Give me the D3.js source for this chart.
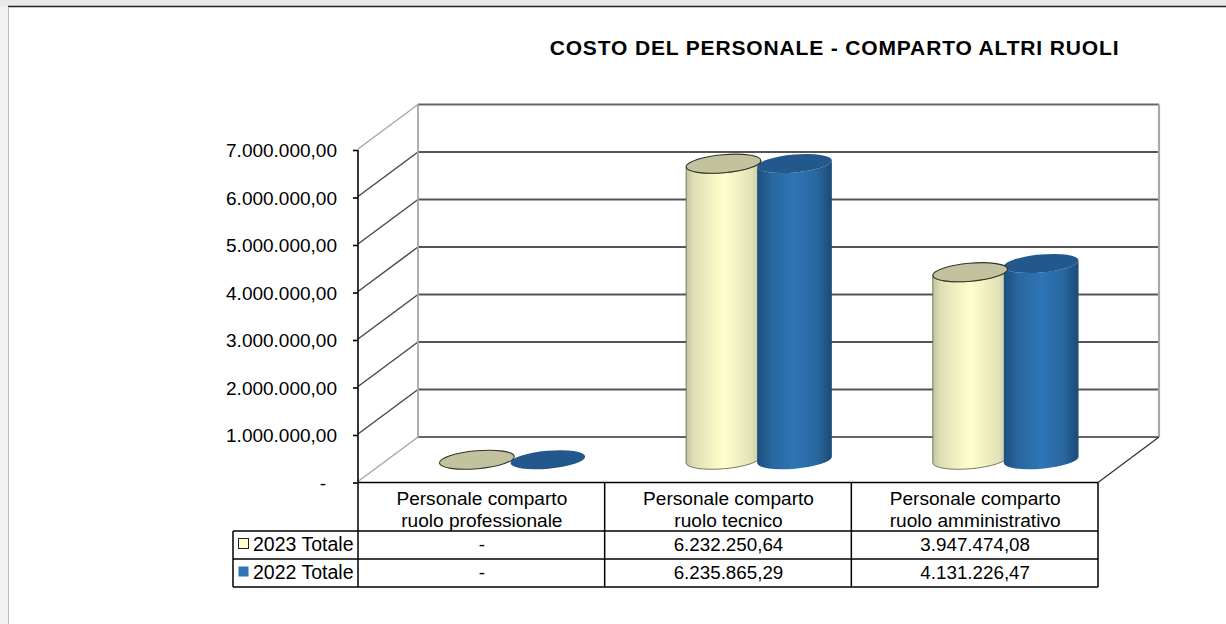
<!DOCTYPE html>
<html>
<head>
<meta charset="utf-8">
<script src="https://cdnjs.cloudflare.com/ajax/libs/d3/7.8.5/d3.min.js"></script>
<style>
  html, body { margin: 0; padding: 0; background: #fff; }
  svg { display: block; }
  text { font-family: "Liberation Sans", Arial, sans-serif; fill: #000; }
</style>
</head>
<body>
<div id="chart"></div>
<script>
var chartTitle = "COSTO DEL PERSONALE - COMPARTO ALTRI RUOLI";
var categories = ["Personale comparto ruolo professionale", "Personale comparto ruolo tecnico", "Personale comparto ruolo amministrativo"];
var categoryLines = [["Personale comparto", "ruolo professionale"], ["Personale comparto", "ruolo tecnico"], ["Personale comparto", "ruolo amministrativo"]];
var seriesNames = ["2023 Totale", "2022 Totale"];
var values2023 = [0, 6232250.64, 3947474.08];
var values2022 = [0, 6235865.29, 4131226.47];
var tickValues = [0, 1000000, 2000000, 3000000, 4000000, 5000000, 6000000, 7000000];

var width = 1226, height = 624;
var left = 358, right = 1098, bottom = 482.5, top_ = 150;
var depthX = 60, depthY = -45.5;
var tilt = 5 * Math.PI / 180;

var locale = d3.formatLocale({ decimal: ",", thousands: ".", grouping: [3], currency: ["", ""] });
var fmt = locale.format(",.2f");
function money(v) { return v === 0 ? "-" : fmt(v); }

var svg = d3.select("#chart").append("svg").attr("width", width).attr("height", height);
var defs = svg.append("defs");

function gradient(id, stops) {
  var g = defs.append("linearGradient").attr("id", id);
  stops.forEach(function (s) {
    g.append("stop").attr("offset", s[0]).attr("stop-color", s[1]);
  });
}
gradient("tanBody", [["0", "#c4c4a0"], ["0.1", "#dedeb6"], ["0.5", "#ffffcc"], ["0.88", "#e2e2b8"], ["1", "#c2c29e"]]);
gradient("blueBody", [["0", "#1d4f7e"], ["0.2", "#28679f"], ["0.5", "#2e75b6"], ["0.8", "#28679f"], ["1", "#1b4a75"]]);

// page frame of the screenshot
svg.append("rect").attr("width", width).attr("height", height).attr("fill", "#fff");
svg.append("rect").attr("width", width).attr("height", 6).attr("fill", "#e9e9e9");
svg.append("rect").attr("y", 6).attr("width", 8).attr("height", height - 6).attr("fill", "#f1f1f1");
svg.append("line").attr("x1", 8).attr("x2", width).attr("y1", 6.5).attr("y2", 6.5).attr("stroke", "#222").attr("stroke-width", 1.5);
svg.append("line").attr("x1", 8.5).attr("x2", 8.5).attr("y1", 7).attr("y2", height).attr("stroke", "#bbb");

svg.append("text").text(chartTitle)
  .attr("x", 834.5).attr("y", 54.5)
  .attr("text-anchor", "middle")
  .attr("font-weight", "bold")
  .style("letter-spacing", "0.85px")
  .style("font-size", "21px");

var x = d3.scaleBand().domain(categories).range([left, right]);
var y = d3.scaleLinear().domain([0, 7000000]).range([bottom, top_]);
var sub = d3.scaleBand().domain(seriesNames).range([-71, 71]);

// back wall + side wall grid
var grid = svg.append("g").attr("fill", "none");
tickValues.forEach(function (t) {
  var light = t === 7000000 || t === 0;
  grid.append("line")
    .attr("x1", left + depthX).attr("x2", right + depthX + 1)
    .attr("y1", y(t) + depthY).attr("y2", y(t) + depthY)
    .attr("stroke", t === 0 || t === 7000000 ? "#666" : "#555").attr("stroke-width", 1.8);
  grid.append("line")
    .attr("x1", left).attr("x2", left + depthX)
    .attr("y1", y(t) - 1).attr("y2", y(t) + depthY)
    .attr("stroke", light ? "#a8a8a8" : "#4a4a4a").attr("stroke-width", 1.5);
});
grid.append("line").attr("x1", left + depthX).attr("x2", left + depthX)
  .attr("y1", y(0) + depthY).attr("y2", y(7000000) + depthY)
  .attr("stroke", "#a8a8a8").attr("stroke-width", 1.8);
grid.append("line").attr("x1", right + depthX + 1).attr("x2", right + depthX + 1)
  .attr("y1", y(0) + depthY).attr("y2", y(7000000) + depthY)
  .attr("stroke", "#a8a8a8").attr("stroke-width", 2.2);
grid.append("line").attr("x1", right).attr("x2", right + depthX + 1)
  .attr("y1", y(0)).attr("y2", y(0) + depthY)
  .attr("stroke", "#333").attr("stroke-width", 1.3);

// y axis
var axis = d3.axisLeft(y).tickValues(tickValues).tickFormat(money).tickSize(5).tickSizeOuter(0).tickPadding(11);
var axisG = svg.append("g").attr("transform", "translate(" + left + ",0)").call(axis);
axisG.selectAll("path, line").attr("stroke", "#000").attr("stroke-width", 1.6);
axisG.selectAll("text").style("font-size", "19px").attr("dy", "0.36em")
  .attr("x", function (d) { return d === 0 ? -32 : -21; });
axisG.select(".domain").attr("d", "M0," + y(7000000) + "V" + y(0));

// cylinders
var rx = 37.5, ry = 9;
var series = [
  { name: seriesNames[0], vals: values2023, body: "url(#tanBody)", topFill: "#c2c29e", line: "#33332a" },
  { name: seriesNames[1], vals: values2022, body: "url(#blueBody)", topFill: "#23588c", line: "none" }
];
function cx(i, s) {
  return x(categories[i]) + x.bandwidth() / 2 + depthX / 2 + 1 + sub(s.name) + sub.bandwidth() / 2;
}
function cyBase() { return y(0) + depthY / 2; }
function cyTop(v) { return y(v) + depthY / 2; }

function bodyPath(c, yt, yb) {
  var dx = rx * Math.cos(tilt), dy = rx * Math.sin(tilt);
  return "M" + (c - dx) + "," + (yt + dy) +
    "L" + (c - dx) + "," + (yb + dy) +
    "A" + rx + "," + ry + " -5 0 0 " + (c + dx) + "," + (yb - dy) +
    "L" + (c + dx) + "," + (yt - dy) +
    "A" + rx + "," + ry + " -5 0 1 " + (c - dx) + "," + (yt + dy) + "Z";
}

var bodies = svg.append("g"), tops = svg.append("g");
series.forEach(function (s) {
  s.vals.forEach(function (v, i) {
    if (v === 0) return;
    bodies.append("path")
      .attr("d", bodyPath(cx(i, s), cyTop(v), cyBase()))
      .attr("fill", s.body)
      .attr("stroke", s.line === "none" ? "none" : "#6b6b50")
      .attr("stroke-width", 0.9);
  });
});
series.slice().reverse().forEach(function (s) {
  s.vals.forEach(function (v, i) {
    tops.append("ellipse")
      .attr("transform", "translate(" + cx(i, s) + "," + cyTop(v) + ") rotate(-5)")
      .attr("rx", rx).attr("ry", ry)
      .attr("fill", s.topFill)
      .attr("stroke", s.line)
      .attr("stroke-width", 1.1);
  });
});

// data table
var rowY = [531, 559, 587];
var colX = [left].concat(categories.map(function (c) { return x(c) + x.bandwidth(); }));
var table = svg.append("g").attr("stroke", "#000").attr("stroke-width", 1.5);
table.append("line").attr("x1", left).attr("x2", right).attr("y1", bottom).attr("y2", bottom);
rowY.forEach(function (r) {
  table.append("line").attr("x1", 233).attr("x2", right).attr("y1", r).attr("y2", r);
});
colX.forEach(function (c) {
  table.append("line").attr("x1", c).attr("x2", c).attr("y1", bottom).attr("y2", 587);
});
table.append("line").attr("x1", 233).attr("x2", 233).attr("y1", 531).attr("y2", 587);

categories.forEach(function (c, i) {
  categoryLines[i].forEach(function (l, j) {
    svg.append("text").text(l)
      .attr("x", x(c) + x.bandwidth() / 2 + 0.5)
      .attr("y", 505 + j * 22)
      .attr("text-anchor", "middle")
      .style("font-size", "19.1px");
  });
});

series.forEach(function (s, k) {
  var midY = rowY[k] + 14;
  svg.append("rect")
    .attr("x", 238.5).attr("y", midY - 6.5).attr("width", 10).attr("height", 10)
    .attr("fill", k === 0 ? "#ffffcc" : "#2e75b6")
    .attr("stroke", k === 0 ? "#222" : "none");
  svg.append("text").text(s.name)
    .attr("x", 253).attr("y", midY + 6)
    .style("font-size", "19.5px");
  s.vals.forEach(function (v, i) {
    svg.append("text").text(money(v))
      .attr("x", x(categories[i]) + x.bandwidth() / 2 + 0.5)
      .attr("y", midY + 6)
      .attr("text-anchor", "middle")
      .style("font-size", "18.8px");
  });
});
</script>
</body>
</html>
